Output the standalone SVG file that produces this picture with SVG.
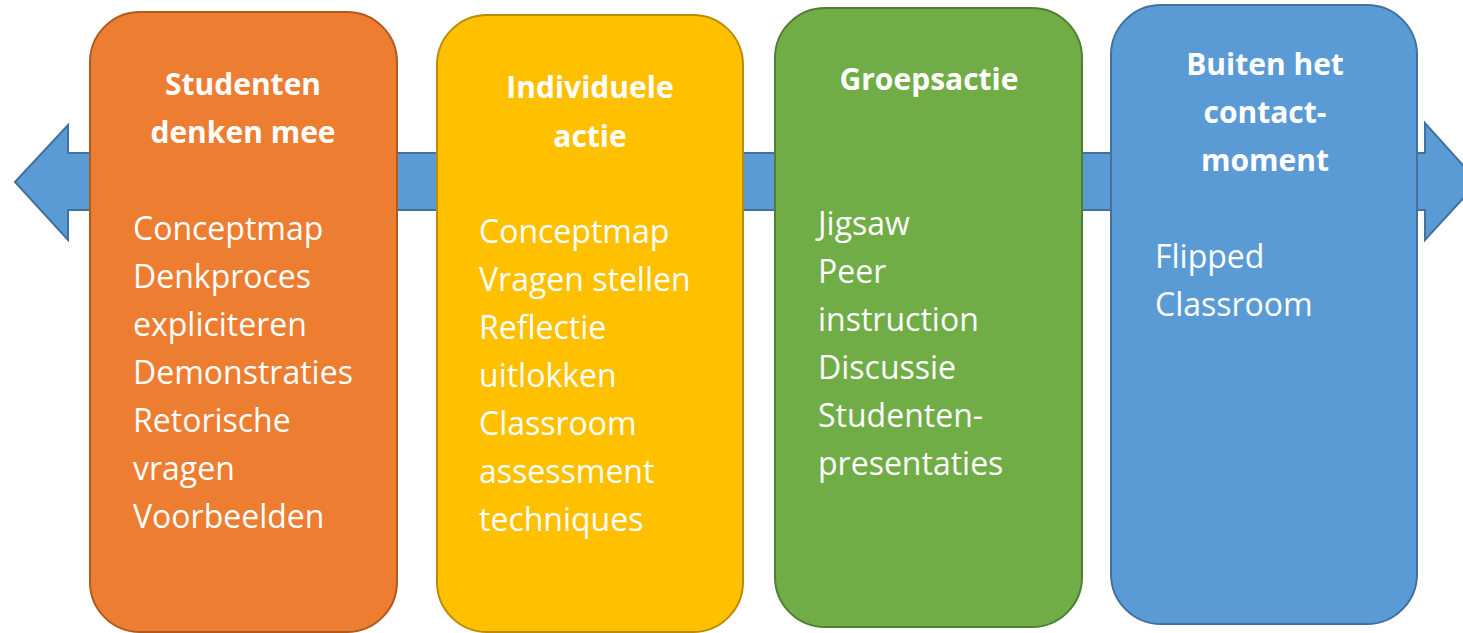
<svg xmlns="http://www.w3.org/2000/svg" width="1463" height="633" viewBox="0 0 1463 633">
<style>
.box{stroke-width:2}
.t{font-family:"Open Sans","Liberation Sans",sans-serif;font-weight:bold;font-size:30px;fill:#fff;text-anchor:middle}
.b{font-family:"Open Sans","Liberation Sans",sans-serif;font-size:32px;fill:#fff}
</style>
<rect width="1463" height="633" fill="#fff"/>
<g id="connectors">
<polygon points="15,182 68,125 68,153 1425,153 1425,123 1478,182 1425,240 1425,210 68,210 68,240" fill="#5B9BD5" stroke="#41719C" stroke-width="2"/>
</g>
<g id="node1">
<rect class="box" x="90" y="12" width="307" height="620" rx="50" fill="#ED7D31" stroke="#AE5A21"/>
<text class="t" x="243" y="95">Studenten</text>
<text class="t" x="243" y="143">denken mee</text>
<text class="b" x="133" y="240">Conceptmap</text>
<text class="b" x="133" y="288">Denkproces</text>
<text class="b" x="133" y="336">expliciteren</text>
<text class="b" x="133" y="384">Demonstraties</text>
<text class="b" x="133" y="432">Retorische</text>
<text class="b" x="133" y="480">vragen</text>
<text class="b" x="133" y="528">Voorbeelden</text>
</g>
<g id="node2">
<rect class="box" x="437" y="15" width="306" height="617" rx="50" fill="#FFC000" stroke="#BC8C00"/>
<text class="t" x="590" y="98">Individuele</text>
<text class="t" x="590" y="147">actie</text>
<text class="b" x="479" y="243">Conceptmap</text>
<text class="b" x="479" y="291">Vragen stellen</text>
<text class="b" x="479" y="339">Reflectie</text>
<text class="b" x="479" y="387">uitlokken</text>
<text class="b" x="479" y="435">Classroom</text>
<text class="b" x="479" y="483">assessment</text>
<text class="b" x="479" y="531">techniques</text>
</g>
<g id="node3">
<rect class="box" x="775" y="8" width="307" height="619" rx="50" fill="#70AD47" stroke="#507E32"/>
<text class="t" x="929" y="90">Groepsactie</text>
<text class="b" x="818" y="235">Jigsaw</text>
<text class="b" x="818" y="283">Peer</text>
<text class="b" x="818" y="331">instruction</text>
<text class="b" x="818" y="379">Discussie</text>
<text class="b" x="818" y="427">Studenten-</text>
<text class="b" x="818" y="475">presentaties</text>
</g>
<g id="node4">
<rect class="box" x="1111" y="5" width="306" height="619" rx="50" fill="#5B9BD5" stroke="#41719C"/>
<text class="t" x="1265" y="75">Buiten het</text>
<text class="t" x="1265" y="123">contact-</text>
<text class="t" x="1265" y="171">moment</text>
<text class="b" x="1155" y="268">Flipped</text>
<text class="b" x="1155" y="316">Classroom</text>
</g>
</svg>
